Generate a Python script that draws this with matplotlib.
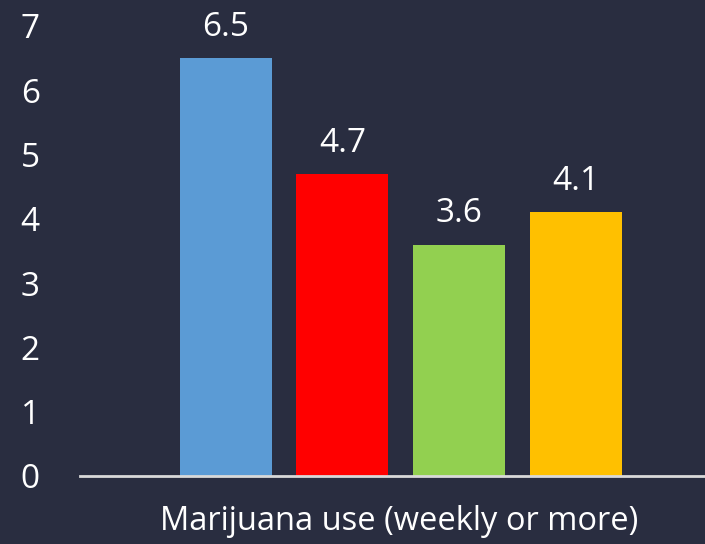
import matplotlib.pyplot as plt

# data
categories = ['A', 'B', 'C', 'D']
values = [6.5, 4.7, 3.6, 4.1]
colors = ['#5b9bd5', '#ff0000', '#92d050', '#ffc000']
yticks = [0, 1, 2, 3, 4, 5, 6, 7]
xlabel = 'Marijuana use (weekly or more)'

bg = '#292d40'
plt.rcParams['font.family'] = ['Open Sans', 'DejaVu Sans']

fig = plt.figure(figsize=(7.05, 5.44), dpi=100, facecolor=bg)
ax = fig.add_axes([80/705, 1-476/544, 625/705, 450/544])
ax.set_facecolor(bg)

xs = list(range(len(values)))
bars = ax.bar(xs, values, width=0.79, color=colors)
for x, v in zip(xs, values):
    ax.text(x, v + 0.22, f'{v}', ha='center', va='bottom', color='white', fontsize=24)

ax.set_xlim(-1.25, 4.11)
ax.set_ylim(0, 7)
ax.set_yticks(yticks)
ax.set_yticklabels([str(t) for t in yticks])
ax.tick_params(axis='y', length=0, labelsize=24, labelcolor='white', pad=29)
ax.set_xticks([])
for s in ['top', 'right', 'left']:
    ax.spines[s].set_visible(False)
ax.spines['bottom'].set_color('#d9d9d9')
ax.spines['bottom'].set_linewidth(2)
fig.text(399/705, 1-522/544, xlabel, ha='center', va='center', color='white', fontsize=23.5)

fig.savefig('out.png', dpi=100, facecolor=bg)
